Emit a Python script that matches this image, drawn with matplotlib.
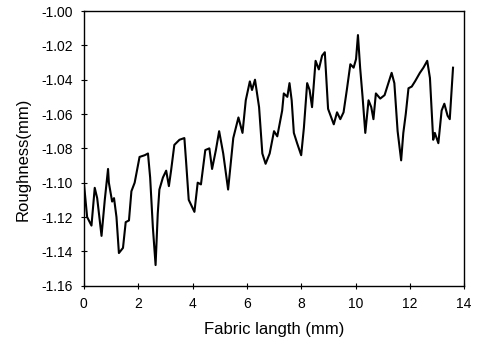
import matplotlib
matplotlib.use("Agg")
import matplotlib.pyplot as plt
from matplotlib.ticker import FormatStrFormatter

plt.rcParams['font.family'] = ['Liberation Sans', 'DejaVu Sans']
plt.rcParams['axes.unicode_minus'] = False

length_mm = [
    0.00, 0.12, 0.28, 0.40, 0.49, 0.65, 0.77, 0.89, 0.92, 1.04, 1.11, 1.20,
    1.29, 1.44, 1.54, 1.66, 1.75, 1.87, 2.05, 2.24, 2.36, 2.44, 2.54, 2.64,
    2.72, 2.78, 2.91, 3.03, 3.13, 3.21, 3.33, 3.52, 3.70, 3.76, 3.86, 4.07,
    4.19, 4.31, 4.47, 4.62, 4.72, 4.86, 4.98, 5.13, 5.31, 5.50, 5.69, 5.84,
    5.96, 6.11, 6.19, 6.30, 6.45, 6.57, 6.69, 6.84, 7.00, 7.12, 7.30, 7.36,
    7.49, 7.57, 7.65, 7.73, 7.85, 8.00, 8.10, 8.22, 8.31, 8.40, 8.53, 8.65,
    8.77, 8.87, 8.99, 9.20, 9.32, 9.44, 9.56, 9.68, 9.81, 9.93, 10.02, 10.09,
    10.17, 10.26, 10.36, 10.48, 10.58, 10.66, 10.75, 10.91, 11.07, 11.21,
    11.33, 11.43, 11.55, 11.68, 11.76, 11.85, 11.95, 12.07, 12.19, 12.37,
    12.50, 12.64, 12.74, 12.86, 12.92, 13.05, 13.17, 13.27, 13.39, 13.47,
    13.59,
]
roughness_mm = [
    -1.100, -1.120, -1.125, -1.103, -1.109, -1.131, -1.110, -1.092, -1.100,
    -1.111, -1.109, -1.120, -1.141, -1.138, -1.123, -1.122, -1.105, -1.100,
    -1.085, -1.084, -1.083, -1.097, -1.126, -1.148, -1.118, -1.104, -1.097,
    -1.093, -1.102, -1.093, -1.078, -1.075, -1.074, -1.087, -1.110, -1.117,
    -1.100, -1.101, -1.081, -1.080, -1.092, -1.081, -1.070, -1.083, -1.104,
    -1.074, -1.062, -1.071, -1.052, -1.041, -1.046, -1.040, -1.056, -1.083,
    -1.089, -1.083, -1.070, -1.073, -1.058, -1.048, -1.050, -1.042, -1.052,
    -1.071, -1.077, -1.084, -1.068, -1.042, -1.046, -1.056, -1.029, -1.034,
    -1.026, -1.024, -1.057, -1.066, -1.059, -1.063, -1.059, -1.046, -1.031,
    -1.033, -1.028, -1.014, -1.033, -1.050, -1.071, -1.052, -1.056, -1.063,
    -1.048, -1.051, -1.049, -1.042, -1.036, -1.042, -1.070, -1.087, -1.071,
    -1.060, -1.045, -1.044, -1.041, -1.036, -1.033, -1.029, -1.039, -1.075,
    -1.071, -1.077, -1.058, -1.054, -1.061, -1.063, -1.033,
]

x_ticks = [0, 2, 4, 6, 8, 10, 12, 14]
y_ticks = [-1.16, -1.14, -1.12, -1.10, -1.08, -1.06, -1.04, -1.02, -1.00]

fig = plt.figure(figsize=(4.82, 3.45), dpi=100)
ax = fig.add_axes([0.174, 0.172, 0.789, 0.796])
ax.plot(length_mm, roughness_mm, color='black', lw=1.5)

ax.set_xlim(0, 14)
ax.set_ylim(-1.16, -1.00)
ax.set_xticks(x_ticks)
ax.set_yticks(y_ticks)
ax.yaxis.set_major_formatter(FormatStrFormatter('%.2f'))
ax.tick_params(direction='inout', length=4, width=0.8, labelsize=10, pad=6)
for s in ax.spines.values():
    s.set_color('black')
    s.set_linewidth(1.0)

ax.set_xlabel('Fabric langth (mm)', fontsize=12, labelpad=8)
ax.set_ylabel('Roughness(mm)', fontsize=12)
ax.yaxis.set_label_coords(-0.14, 0.46)

fig.savefig('out.png', dpi=100)
